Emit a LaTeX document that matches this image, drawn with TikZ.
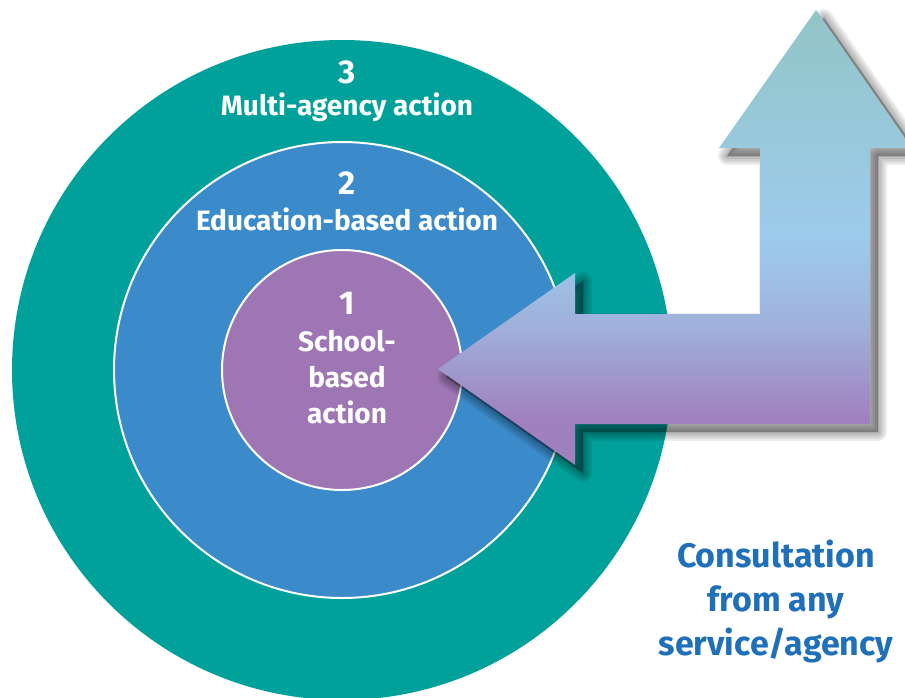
\documentclass[tikz,border=0pt]{standalone}
\usepackage{fontspec}
\setmainfont{Fira Sans}
\definecolor{ringteal}{RGB}{0,161,154}
\definecolor{ringblue}{RGB}{59,139,203}
\definecolor{ringpurple}{RGB}{158,118,180}
\definecolor{consultblue}{RGB}{31,112,184}
\definecolor{arrowtop}{RGB}{146,197,198}
\definecolor{arrowmid}{RGB}{157,203,236}
\definecolor{arrowlow}{RGB}{160,176,218}
\definecolor{arrowbot}{RGB}{160,128,190}
% path box maps to 25bp..75bp
\pgfdeclareverticalshading{arrowgrad}{100bp}{color(0bp)=(arrowbot); color(30bp)=(arrowbot);
  color(40bp)=(arrowlow); color(50bp)=(arrowmid); color(75bp)=(arrowtop); color(100bp)=(arrowtop)}

\begin{document}
\begin{tikzpicture}[x=1pt,y=-1pt,
  ring/.style n args={2}{circle,fill=#1,draw=white,line width=2pt,minimum size=#2,inner sep=0pt},
  lbl/.style={text=white,font=\bfseries\fontsize{28}{36}\selectfont,align=center},
  num/.style={text=white,font=\bfseries\fontsize{33}{36}\selectfont},
  consult/.style={text=consultblue,font=\bfseries\fontsize{34}{44}\selectfont,align=center}]
\useasboundingbox (0,0) rectangle (905,697);
\begin{scope}
\clip (0,0) rectangle (905,697);
% rings
\node[ring={ringteal}{660pt},draw=none] (outer) at (342,370) {};
\node[ring={ringblue}{456pt}] (middle) at (342,370) {};
\node[ring={ringpurple}{240pt}] (inner) at (342,370) {};
% bent arrow, soft shadow first
\def\arrowpath{(438,369) -- (575,273) -- (575,314) -- (760,314) -- (760,148) -- (719,148)
  -- (816,10) -- (912,148) -- (870,148) -- (870,424) -- (575,424) -- (575,465) -- cycle}
\foreach \w in {18,14,10,6,2} {
  \filldraw[black,opacity=0.07,line width=\w pt,line join=round,shift={(8,8)}] \arrowpath;
}
\shade[shading=arrowgrad] \arrowpath;
\end{scope}
% labels
\foreach \n/\y in {3/72,2/183,1/303} {
  \node[num] (num\n) at (347,\y) {\n};
}
\node[lbl] (multi) at (347,107) {Multi-agency action};
\node[lbl] (edu) at (347,219) {Education-based action};
\node[lbl] (school) at (347,377) {School-\\based\\action};
\node[consult] (consult) at (776,601) {Consultation\\from any\\service/agency};
\end{tikzpicture}
\end{document}
